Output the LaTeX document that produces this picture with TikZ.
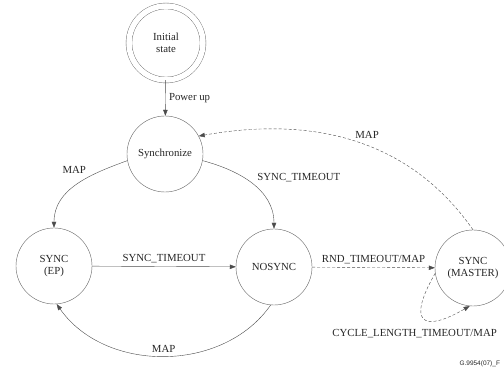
\documentclass[tikz,border=0pt]{standalone}
\usepackage{fontspec}
\setmainfont{Liberation Serif}
\newfontfamily\figfont{Liberation Sans}
\usetikzlibrary{positioning,arrows.meta}

\begin{document}
\begin{tikzpicture}[x=1pt, y=1pt,
    font=\fontsize{10.8}{12.5}\selectfont, text=black!85,
    statenode/.style={circle, draw=black!60, thin, minimum size=76pt, inner sep=0pt, align=center},
    initnode/.style={statenode, double, double distance=5.5pt, minimum size=74pt},
    trans/.style={draw=black!70, thin, -{Triangle[length=6pt, width=4.5pt]}},
    maptrans/.style={trans, dash pattern=on 3pt off 2pt}]
    \useasboundingbox (0,0) rectangle (504,371);

    %Nodes
    \node[initnode]     (init)      at (166,328)    {Initial\\state};
    \node[statenode]    (synch)     at (165,217)    {Synchronize};
    \node[statenode]    (ep)        at (54,105)     {SYNC\\(EP)};
    \node[statenode]    (nosync)    at (274,104)    {NOSYNC};
    \node[statenode]    (master)    at (473,103)    {SYNC\\(MASTER)};
    \node[font=\figfont\fontsize{6.5}{7}\selectfont, anchor=west] (figref) at (456,7) {G.9954(07)\_F};

    %Lines
    \draw[trans] (init) -- node[right] {Power up} (synch);
    \draw[trans] (synch.190) to[out=200, in=90] node[pos=.36, above left] {MAP} (ep.north);
    \draw[trans] (synch.-10) to[out=-15, in=90] node[pos=.52, above right] {SYNC\_TIMEOUT} (nosync.north);
    \draw[trans] (ep) -- node[above] {SYNC\_TIMEOUT} (nosync);
    \draw[trans] (nosync.265) to[out=235, in=-55] node[pos=.5, above] {MAP} (ep.-86);
    \draw[maptrans] (nosync) -- node[above] {RND\_TIMEOUT/MAP} (master);
    \draw[maptrans] (master.north) to[out=125, in=10] node[pos=.45, above=3pt] {MAP} (synch.28);
    \draw[maptrans] (master.188) to[out=240, in=210, looseness=3]
        node[pos=.6, below=5pt, xshift=-14pt] {CYCLE\_LENGTH\_TIMEOUT/MAP} (master.265);
\end{tikzpicture}
\end{document}
